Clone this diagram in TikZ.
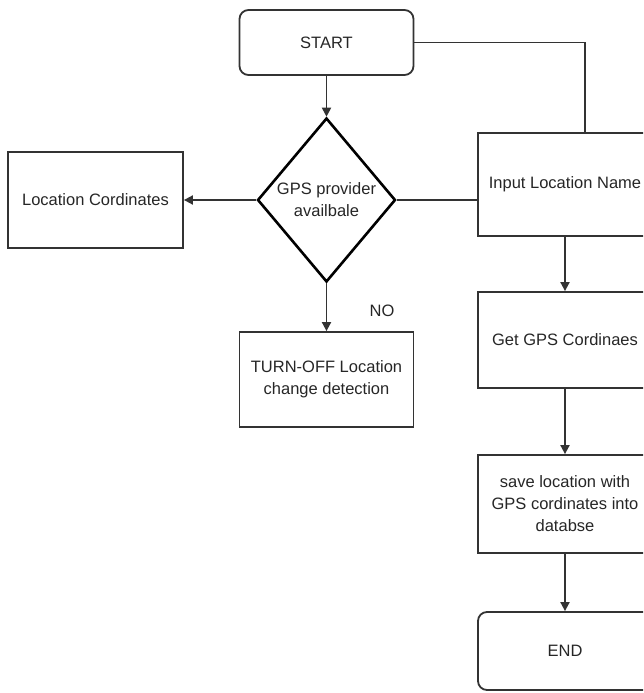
\documentclass[tikz,border=0pt]{standalone}
\usepackage{fontspec}
\setmainfont{Liberation Sans}
\usetikzlibrary{shapes.geometric,arrows.meta}
\begin{document}
\begin{tikzpicture}[x=1pt,y=-1pt,
  every node/.style={font=\fontsize{16.5}{22}\selectfont, text=black!85},
  box/.style={draw=black!80, line width=1.8pt, rectangle, minimum width=174pt, align=center, inner sep=2pt},
  rbox/.style={box, rounded corners=9pt},
  dec/.style={draw=black, line width=2.6pt, diamond, minimum width=138pt, minimum height=164pt, align=center, inner sep=0pt},
  conn/.style={draw=black!80, line width=1.8pt},
  arr/.style={conn, -{Triangle[length=9pt,width=9pt]}}
]
\useasboundingbox (0,0) rectangle (643,693);
\clip (0,0) rectangle (643,693);
\node[rbox, minimum height=65pt] (start) at (326.5,42.5) {START};
\node[dec] (gps) at (326.5,200) {GPS provider\\availbale};
\node[box, minimum width=175pt, minimum height=96pt] (loc) at (95.5,200) {Location Cordinates};
\node[box, minimum height=95pt] (turn) at (326.5,379.5) {TURN-OFF Location\\change detection};
\node[box, minimum height=103pt] (inp) at (565,184.5) {Input Location Name};
\node[box, minimum height=96pt] (get) at (565,340) {Get GPS Cordinaes};
\node[box, minimum height=98pt] (save) at (565,504) {save location with\\GPS cordinates into\\databse};
\node[rbox, minimum height=78pt] (end) at (565,651) {END};
\node (no) at (382,311) {NO};
\coordinate (c1) at (585,42.5);
\draw[arr] (start) -- (gps);
\draw[arr] (gps.west) -- (loc.east);
\draw[conn] (gps.east) -- (inp.west |- gps.east);
\draw[conn] (start.east) -- (c1) -- (c1 |- inp.north);
\draw[arr] (gps.south) -- (turn.north);
\draw[arr] (inp) -- (get);
\draw[arr] (get) -- (save);
\draw[arr] (save) -- (end);
\end{tikzpicture}
\end{document}
